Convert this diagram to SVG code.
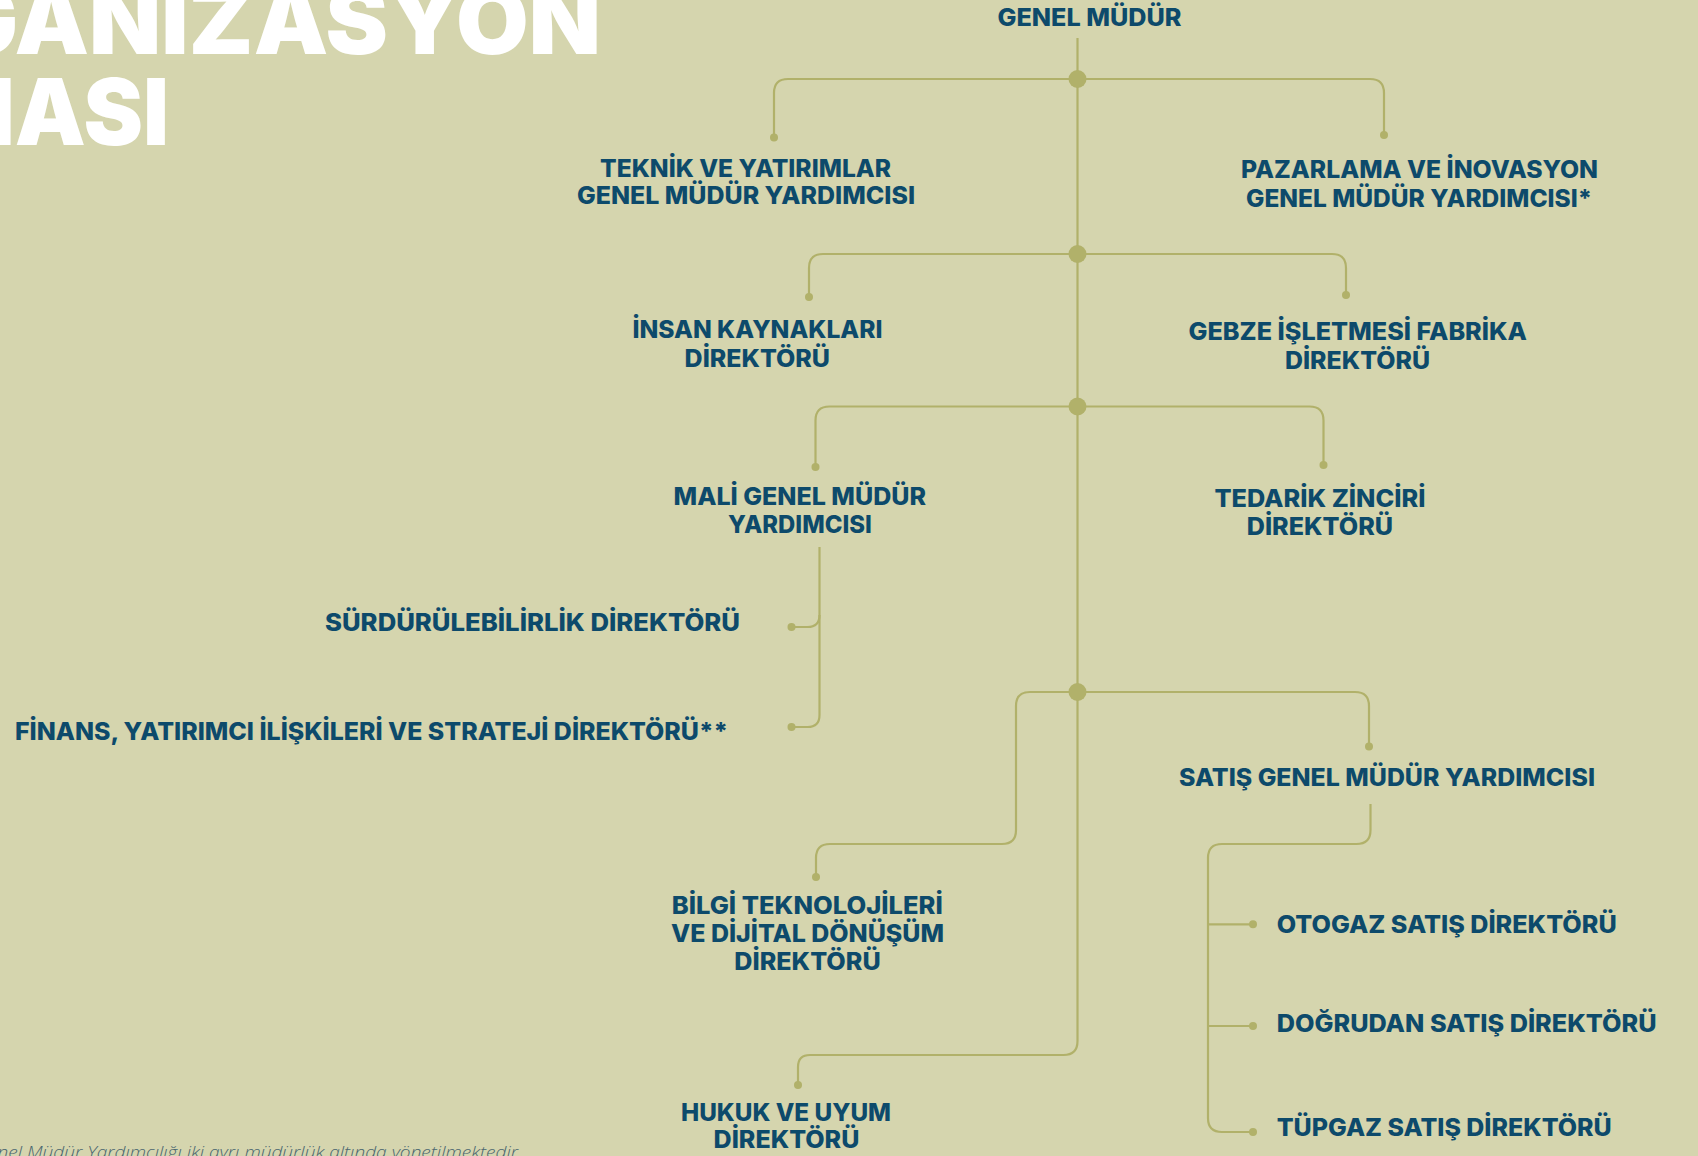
<svg xmlns="http://www.w3.org/2000/svg" width="1698" height="1156" viewBox="0 0 1698 1156">
<defs>
<style>
.bg{fill:#d5d5ae}
.t{font-family:Inter,"Liberation Sans","DejaVu Sans",sans-serif;font-weight:800;font-size:24px;fill:#0d4a6b}
.title{font-family:Inter,"DejaVu Sans","Liberation Sans",sans-serif;font-weight:900;font-size:92px;fill:#ffffff}
.foot{font-family:"Open Sans","Liberation Sans",sans-serif;font-style:italic;font-weight:300;font-size:16px;fill:#4a6670}
.ln{fill:none;stroke:#b1b16a;stroke-width:2.2}
.jd{fill:#b1b16a}
.ed{fill:#b1b16a}
</style>
</defs>
<rect class="bg" x="0" y="0" width="1698" height="1156"/>
<g id="title">
<text class="title" x="-188" y="54" textLength="789" lengthAdjust="spacingAndGlyphs">ORGANİZASYON</text>
<text class="title" x="-185" y="145" textLength="354" lengthAdjust="spacingAndGlyphs">ŞEMASI</text>
</g>
<g id="connectors">
<path class="ln" d="M1077.5,38 V1041 Q1077.5,1055 1063.5,1055 H810 Q798,1055 798,1067 V1085"/>
<path class="ln" d="M1077.5,79 H788 Q774,79 774,93 V137.5"/>
<path class="ln" d="M1077.5,79 H1370 Q1384,79 1384,93 V135"/>
<path class="ln" d="M1077.5,254 H823 Q809,254 809,268 V297"/>
<path class="ln" d="M1077.5,254 H1332 Q1346,254 1346,268 V295"/>
<path class="ln" d="M1077.5,406.5 H829.5 Q815.5,406.5 815.5,420.5 V467"/>
<path class="ln" d="M1077.5,406.5 H1309.5 Q1323.5,406.5 1323.5,420.5 V465"/>
<path class="ln" d="M1077.5,692 H1030 Q1016,692 1016,706 V830 Q1016,844 1002,844 H830 Q816,844 816,858 V877"/>
<path class="ln" d="M1077.5,692 H1355 Q1369,692 1369,706 V746.5"/>
<path class="ln" d="M819.5,547 V715 Q819.5,727 807.5,727 H791.5"/>
<path class="ln" d="M819.5,615 Q819.5,627 807.5,627 H791.5"/>
<path class="ln" d="M1370.5,804 V830 Q1370.5,844 1356.5,844 H1222 Q1208,844 1208,858 V1118 Q1208,1132 1222,1132 H1253"/>
<path class="ln" d="M1208,924.3 H1253"/>
<path class="ln" d="M1208,1026 H1253"/>
<circle class="jd" cx="1077.5" cy="79" r="9"/>
<circle class="jd" cx="1077.5" cy="254" r="9"/>
<circle class="jd" cx="1077.5" cy="406.5" r="9"/>
<circle class="jd" cx="1077.5" cy="692" r="9"/>
<circle class="ed" cx="774" cy="137.5" r="4"/>
<circle class="ed" cx="1384" cy="135" r="4"/>
<circle class="ed" cx="809" cy="297" r="4"/>
<circle class="ed" cx="1346" cy="295" r="4"/>
<circle class="ed" cx="815.5" cy="467" r="4"/>
<circle class="ed" cx="1323.5" cy="465" r="4"/>
<circle class="ed" cx="816" cy="877" r="4"/>
<circle class="ed" cx="1369" cy="746.5" r="4"/>
<circle class="ed" cx="798" cy="1085" r="4"/>
<circle class="ed" cx="791.5" cy="627" r="4"/>
<circle class="ed" cx="791.5" cy="727" r="4"/>
<circle class="ed" cx="1253" cy="924.3" r="4"/>
<circle class="ed" cx="1253" cy="1026" r="4"/>
<circle class="ed" cx="1253" cy="1132" r="4"/>
</g>
<g id="genel-mudur"><text class="t" x="997.5" y="25.5" textLength="184" lengthAdjust="spacingAndGlyphs">GENEL MÜDÜR</text></g>
<g id="teknik"><text class="t" x="600" y="176.7" textLength="291" lengthAdjust="spacingAndGlyphs">TEKNİK VE YATIRIMLAR</text><text class="t" x="577" y="204" textLength="338" lengthAdjust="spacingAndGlyphs">GENEL MÜDÜR YARDIMCISI</text></g>
<g id="pazarlama"><text class="t" x="1241" y="178" textLength="357" lengthAdjust="spacingAndGlyphs">PAZARLAMA VE İNOVASYON</text><text class="t" x="1246" y="207" textLength="346" lengthAdjust="spacingAndGlyphs">GENEL MÜDÜR YARDIMCISI*</text></g>
<g id="insan-kaynaklari"><text class="t" x="632.5" y="337.7" textLength="250" lengthAdjust="spacingAndGlyphs">İNSAN KAYNAKLARI</text><text class="t" x="684.6" y="366.7" textLength="145.4" lengthAdjust="spacingAndGlyphs">DİREKTÖRÜ</text></g>
<g id="gebze"><text class="t" x="1188.5" y="340" textLength="338.5" lengthAdjust="spacingAndGlyphs">GEBZE İŞLETMESİ FABRİKA</text><text class="t" x="1285" y="369.3" textLength="145" lengthAdjust="spacingAndGlyphs">DİREKTÖRÜ</text></g>
<g id="mali"><text class="t" x="673.6" y="505" textLength="252.4" lengthAdjust="spacingAndGlyphs">MALİ GENEL MÜDÜR</text><text class="t" x="727.9" y="533.3" textLength="143.9" lengthAdjust="spacingAndGlyphs">YARDIMCISI</text></g>
<g id="tedarik"><text class="t" x="1214.4" y="506.7" textLength="211" lengthAdjust="spacingAndGlyphs">TEDARİK ZİNCİRİ</text><text class="t" x="1246.8" y="535" textLength="146.2" lengthAdjust="spacingAndGlyphs">DİREKTÖRÜ</text></g>
<g id="surdurulebilirlik"><text class="t" x="325" y="631" textLength="415" lengthAdjust="spacingAndGlyphs">SÜRDÜRÜLEBİLİRLİK DİREKTÖRÜ</text></g>
<g id="finans"><text class="t" x="15" y="740" textLength="713" lengthAdjust="spacingAndGlyphs">FİNANS, YATIRIMCI İLİŞKİLERİ VE STRATEJİ DİREKTÖRÜ**</text></g>
<g id="satis"><text class="t" x="1179" y="786" textLength="416" lengthAdjust="spacingAndGlyphs">SATIŞ GENEL MÜDÜR YARDIMCISI</text></g>
<g id="bilgi"><text class="t" x="671.7" y="914" textLength="271" lengthAdjust="spacingAndGlyphs">BİLGİ TEKNOLOJİLERİ</text><text class="t" x="671" y="941.7" textLength="273" lengthAdjust="spacingAndGlyphs">VE DİJİTAL DÖNÜŞÜM</text><text class="t" x="734.3" y="970" textLength="146.4" lengthAdjust="spacingAndGlyphs">DİREKTÖRÜ</text></g>
<g id="hukuk"><text class="t" x="681" y="1120.7" textLength="210" lengthAdjust="spacingAndGlyphs">HUKUK VE UYUM</text><text class="t" x="713.6" y="1148" textLength="145.8" lengthAdjust="spacingAndGlyphs">DİREKTÖRÜ</text></g>
<g id="otogaz"><text class="t" x="1276.7" y="933.3" textLength="340" lengthAdjust="spacingAndGlyphs">OTOGAZ SATIŞ DİREKTÖRÜ</text></g>
<g id="dogrudan"><text class="t" x="1276.7" y="1032.3" textLength="380" lengthAdjust="spacingAndGlyphs">DOĞRUDAN SATIŞ DİREKTÖRÜ</text></g>
<g id="tupgaz"><text class="t" x="1276.7" y="1136" textLength="335" lengthAdjust="spacingAndGlyphs">TÜPGAZ SATIŞ DİREKTÖRÜ</text></g>
<g id="footnote"><text class="foot" x="-25" y="1158" textLength="543" lengthAdjust="spacingAndGlyphs">Genel Müdür Yardımcılığı iki ayrı müdürlük altında yönetilmektedir</text></g>
</svg>
